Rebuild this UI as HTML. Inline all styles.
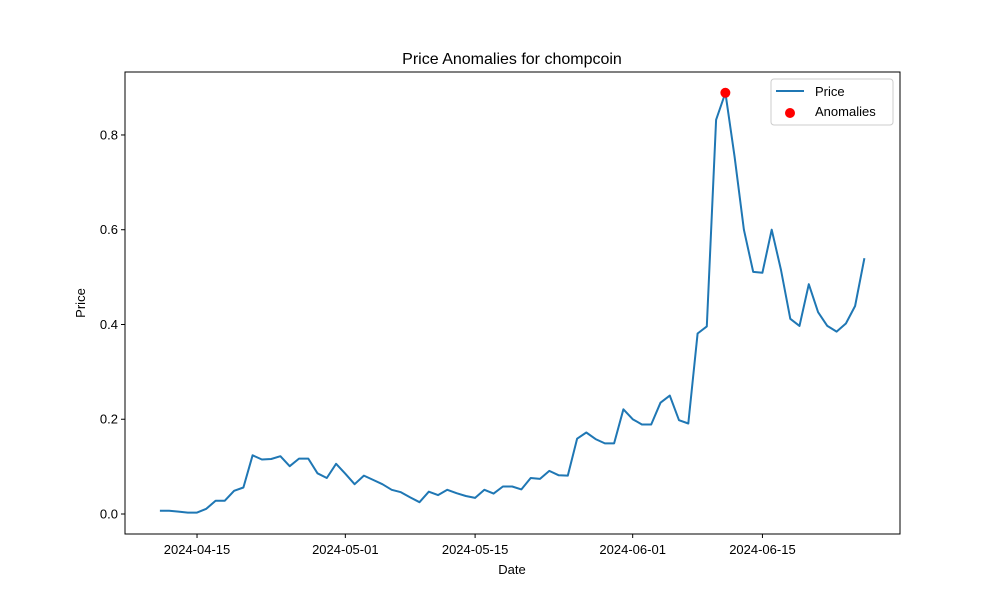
<!DOCTYPE html>
<html><head><meta charset="utf-8"><style>
html,body{margin:0;padding:0;background:#fff}
svg{display:block;font-family:"Liberation Sans","DejaVu Sans",sans-serif}
</style></head><body>
<svg id="chart" width="1000" height="600" xmlns="http://www.w3.org/2000/svg">
<rect width="1000" height="600" fill="#fff"/>
<text x="512" y="64" text-anchor="middle" font-size="16">Price Anomalies for chompcoin</text>
<g id="plot"></g>
<rect x="125" y="72" width="775" height="462" fill="none" stroke="#000" stroke-width="1"/>
<text x="512" y="574" text-anchor="middle" font-size="13">Date</text>
<text x="0" y="0" transform="translate(85,303) rotate(-90)" text-anchor="middle" font-size="13">Price</text>
<g>
<rect x="771" y="79" width="122" height="46" rx="3" fill="#fff" stroke="#ccc" stroke-width="1"/>
<line x1="776" y1="91" x2="804" y2="91" stroke="#1f77b4" stroke-width="2"/>
<text x="815" y="96" font-size="13">Price</text>
<circle cx="790" cy="113" r="5" fill="#ff0000"/>
<text x="815" y="116" font-size="13">Anomalies</text>
</g>
</svg>
<script>
const prices = [0.007,0.007,0.005,0.003,0.003,0.011,0.028,0.028,0.049,0.056,
0.124,0.115,0.116,0.122,0.101,0.117,0.117,0.086,0.076,0.106,
0.085,0.063,0.081,0.072,0.063,0.051,0.046,0.035,0.025,0.047,
0.040,0.051,0.044,0.038,0.034,0.051,0.043,0.058,0.058,0.052,
0.076,0.074,0.091,0.082,0.081,0.159,0.172,0.158,0.149,0.149,
0.221,0.200,0.189,0.189,0.235,0.250,0.198,0.191,0.381,0.396,
0.832,0.889,0.754,0.600,0.511,0.509,0.600,0.515,0.412,0.397,
0.485,0.426,0.397,0.385,0.402,0.439,0.540];
const anomalyIdx = [61];
const xTickLabels = ["2024-04-15","2024-05-01","2024-05-15","2024-06-01","2024-06-15"];
const xTickDays = [0,16,30,47,61];
const yTicks = [0.0,0.2,0.4,0.6,0.8];
const firstDay = -4;

const NS="http://www.w3.org/2000/svg";
const L=125,R=900,T=72,B=534;
const xDom=[-7.77,75.84], yDom=[-0.0422,0.9329];
const xs=d=>L+(d-xDom[0])/(xDom[1]-xDom[0])*(R-L);
const ys=v=>B-(v-yDom[0])/(yDom[1]-yDom[0])*(B-T);
const dayOf=i=>firstDay+i;
const g=document.getElementById('plot');
function mk(t,a){const e=document.createElementNS(NS,t);for(const k in a)e.setAttribute(k,a[k]);return e;}

yTicks.forEach((v,i)=>{
  const y=ys(v);
  const tk=mk('line',{x1:L-4,x2:L,y1:y,y2:y,stroke:'#000'});
  
  
  g.appendChild(tk);
  const t=mk('text',{x:L-7,y:y+4.5,'text-anchor':'end','font-size':13});
  
  
  t.textContent=v.toFixed(1);g.appendChild(t);
});
xTickDays.forEach((d,i)=>{
  const x=xs(d);
  const tk=mk('line',{x1:x,x2:x,y1:B,y2:B+4,stroke:'#000'});
  
  
  g.appendChild(tk);
  const t=mk('text',{x:x,y:B+20,'text-anchor':'middle','font-size':13});
  
  
  t.textContent=xTickLabels[i];g.appendChild(t);
});
const pts=prices.map((v,i)=>xs(dayOf(i)).toFixed(1)+','+ys(v).toFixed(1)).join(' ');
const line=mk('polyline',{points:pts,fill:'none',stroke:'#1f77b4','stroke-width':2,'stroke-linejoin':'round'});


g.appendChild(line);
anomalyIdx.forEach(i=>{
  const c=mk('circle',{cx:xs(dayOf(i)),cy:ys(prices[i]),r:5,fill:'#ff0000'});
  
  
  g.appendChild(c);
});
</script>
</body></html>
